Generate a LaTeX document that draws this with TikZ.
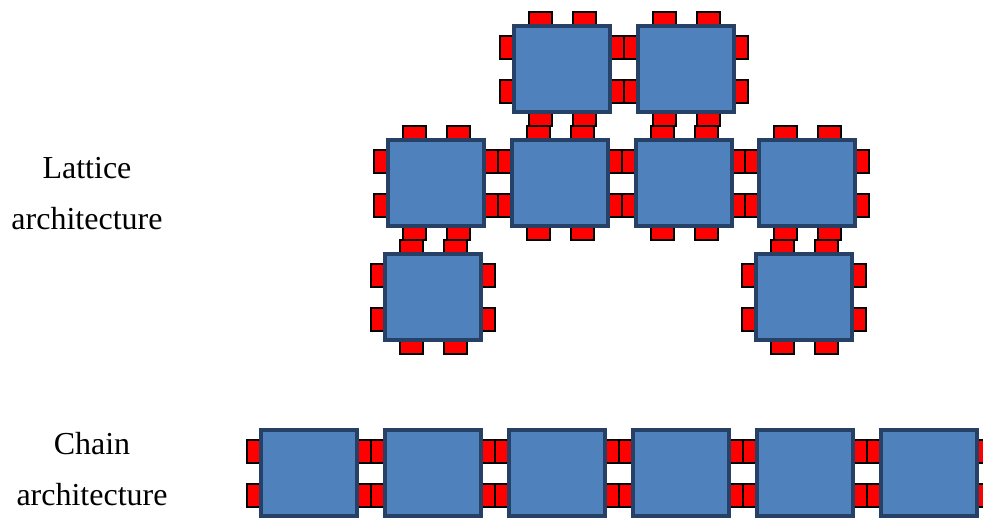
\documentclass[tikz,border=0pt]{standalone}
\usepackage{fontspec}
\setmainfont{Liberation Serif}
\definecolor{sqfill}{HTML}{4F81BD}
\definecolor{sqedge}{HTML}{264066}
\begin{document}
\begin{tikzpicture}[x=1pt,y=-1pt,
  core/.style={draw=sqedge, fill=sqfill, line width=4pt, minimum width=96pt,
    minimum height=86pt, inner sep=0pt, outer sep=0pt},
  tabst/.style={draw=black, fill=red, line width=2pt},
  lbl/.style={font=\fontsize{32}{40}\selectfont, inner sep=0pt, anchor=base}]
\useasboundingbox (0,0) rectangle (983,517);
% lattice tabs
\foreach \x/\y in {512/24,636/24,386/138,510/138,634/138,757/138,383/252,754/252} {
  \foreach \dy in {12,56} {
    \draw[tabst] (\x-12,\y+\dy) rectangle (\x+2,\y+\dy+23);
    \draw[tabst] (\x+98,\y+\dy) rectangle (\x+112,\y+\dy+23);
  }
  \foreach \dx in {17,61} {
    \draw[tabst] (\x+\dx,\y-12) rectangle (\x+\dx+23,\y+2);
    \draw[tabst] (\x+\dx,\y+88) rectangle (\x+\dx+23,\y+102);
  }
}
% chain tabs
\foreach \x in {259,383,507,631,755,879} {
  \foreach \dy in {12,56} {
    \draw[tabst] (\x-12,428+\dy) rectangle (\x+2,428+\dy+23);
    \draw[tabst] (\x+98,428+\dy) rectangle (\x+112,428+\dy+23);
  }
}
% lattice cores
\foreach \x/\y [count=\i] in {512/24,636/24,386/138,510/138,634/138,757/138,383/252,754/252}
  \node[core] (L\i) at (\x+50,\y+45) {};
% chain cores
\foreach \x [count=\i] in {259,383,507,631,755,879}
  \node[core] (C\i) at (\x+50,473) {};
% labels
\node[lbl] (lat1) at (87,178) {Lattice};
\node[lbl] (lat2) at (87,229) {architecture};
\node[lbl] (ch1) at (92,454) {Chain};
\node[lbl] (ch2) at (92,505) {architecture};
\end{tikzpicture}
\end{document}
